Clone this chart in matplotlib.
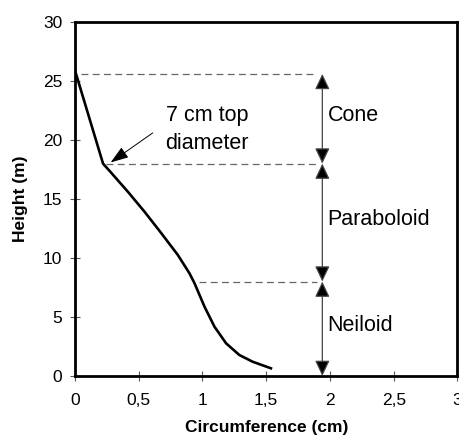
import matplotlib
matplotlib.use("Agg")
from matplotlib import pyplot as plt

plt.rcParams["font.family"] = ["Liberation Sans", "DejaVu Sans"]

# stem profile
circumference = [0.0, 0.22, 0.286, 0.416, 0.547, 0.677, 0.807, 0.898,
                 0.9375, 1.016, 1.094, 1.185, 1.289, 1.393, 1.537]
height = [25.9, 18.0, 17.2, 15.6, 13.9, 12.1, 10.25, 8.7,
          7.86, 5.87, 4.18, 2.77, 1.78, 1.21, 0.65]

# form sections
section_names = ["Cone", "Paraboloid", "Neiloid"]
section_bounds = [25.6, 18.0, 8.0, 0.0]
guide_start = [0.05, 0.24, 0.97]

xticks = [0, 0.5, 1, 1.5, 2, 2.5, 3]
xtick_labels = ["0", "0,5", "1", "1,5", "2", "2,5", "3"]
yticks = [0, 5, 10, 15, 20, 25, 30]

fig = plt.figure(figsize=(4.6, 4.46), dpi=100)
ax = fig.add_axes([0.163, 0.157, 0.8315, 0.7937])

ax.plot(circumference, height, color="black", linewidth=1.9,
        solid_joinstyle="round")

# horizontal guides at section boundaries
marker_x = 1.94
for y, x0 in zip(section_bounds[:3], guide_start):
    ax.plot([x0, 1.9], [y, y], color="#666666", linewidth=0.9,
            linestyle=(0, (5.5, 3.5)))

# double arrows marking each section
for name, top, bottom in zip(section_names, section_bounds[:-1],
                             section_bounds[1:]):
    ax.annotate(
        "", xy=(marker_x, bottom), xytext=(marker_x, top),
        arrowprops=dict(
            arrowstyle="<|-|>,head_length=0.95,head_width=0.45",
            fc="black", ec="#444444", lw=0.9, shrinkA=0, shrinkB=0,
        ),
    )
    ax.text(marker_x + 0.04, (top + bottom) / 2 + 0.3, name,
            fontsize=15.5, ha="left", va="center")

# top diameter callout
ax.annotate(
    "", xy=(0.28, 18.1), xytext=(0.61, 20.6),
    arrowprops=dict(
        arrowstyle="-|>,head_length=1.1,head_width=0.38",
        fc="black", ec="black", lw=0.7, shrinkA=0, shrinkB=0,
    ),
)
ax.text(0.71, 21.6, "7 cm top", fontsize=15.5, ha="left", va="baseline")
ax.text(0.71, 19.2, "diameter", fontsize=15.5, ha="left", va="baseline")

ax.set_xlim(0, 3)
ax.set_ylim(0, 30)
ax.set_xticks(xticks)
ax.set_xticklabels(xtick_labels)
ax.set_yticks(yticks)
ax.tick_params(axis="both", direction="inout", length=7, width=0.8,
               color="#555555", labelsize=12.5)
ax.tick_params(axis="x", pad=8.5)
ax.tick_params(axis="y", pad=5.5)
for spine in ax.spines.values():
    spine.set_linewidth(2.0)

ax.set_xlabel("Circumference (cm)", fontsize=12.5, fontweight="bold",
              labelpad=9)
ax.set_ylabel("Height (m)", fontsize=12.5, fontweight="bold", labelpad=10.5)

fig.savefig("out.png", dpi=100)
